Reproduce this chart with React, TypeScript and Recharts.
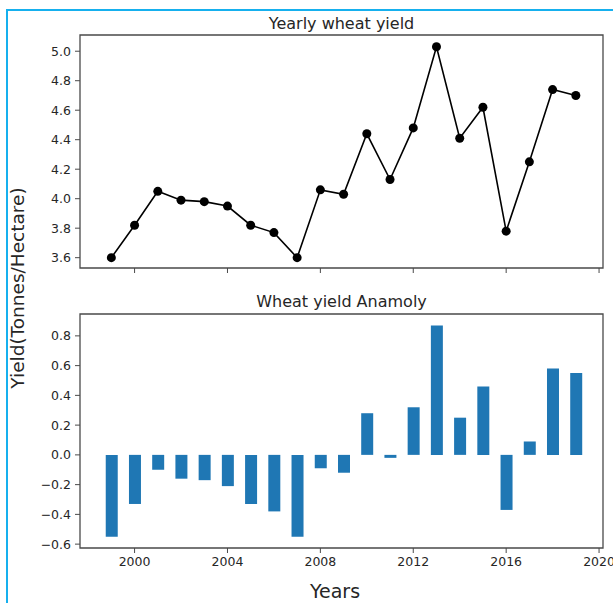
import React from 'react';
import { ComposedChart, Line, Bar, XAxis, YAxis, ReferenceArea } from 'recharts';

const years = [
  1999, 2000, 2001, 2002, 2003, 2004, 2005, 2006, 2007, 2008, 2009,
  2010, 2011, 2012, 2013, 2014, 2015, 2016, 2017, 2018, 2019,
];
const yieldValues = [
  3.6, 3.82, 4.05, 3.99, 3.98, 3.95, 3.82, 3.77, 3.6, 4.06, 4.03,
  4.44, 4.13, 4.48, 5.03, 4.41, 4.62, 3.78, 4.25, 4.74, 4.7,
];
const anomalyValues = [
  -0.55, -0.33, -0.1, -0.16, -0.17, -0.21, -0.33, -0.38, -0.55, -0.09, -0.12,
  0.28, -0.02, 0.32, 0.87, 0.25, 0.46, -0.37, 0.09, 0.58, 0.55,
];
const yearTicks = [2000, 2004, 2008, 2012, 2016, 2020];
const yieldTicks = [3.6, 3.8, 4.0, 4.2, 4.4, 4.6, 4.8, 5.0];
const anomalyTicks = [-0.6, -0.4, -0.2, 0.0, 0.2, 0.4, 0.6, 0.8];

const X_DOMAIN: [number, number] = [1997.65, 2020.17];
const YIELD_DOMAIN: [number, number] = [3.53, 5.11];
const ANOMALY_DOMAIN: [number, number] = [-0.626, 0.947];

const FONT = '"DejaVu Sans", sans-serif';
const TEXT = '#262626';
const SPINE = '#4a4a4a';
const tickStyle = { fontSize: 12.5, fill: TEXT, fontFamily: FONT };

const yieldData = years.map((year, i) => ({ year, value: yieldValues[i] }));
const anomalyData = years.map((year, i) => ({ year, value: anomalyValues[i] }));

// matplotlib style minus sign
const fmt = (v: number) => {
  const s = Math.abs(v) < 1e-9 ? '0.0' : v.toFixed(1);
  return s.replace('-', '\u2212');
};

export default function App() {
  return (
    <div
      style={{
        position: 'absolute',
        left: 0,
        top: 0,
        width: 613,
        height: 603,
        background: '#fff',
        fontFamily: FONT,
        overflow: 'hidden',
      }}
    >
      {/* light blue frame from the screenshot */}
      <div
        style={{
          position: 'absolute',
          left: 6,
          top: 9,
          width: 620,
          height: 620,
          borderTop: '2px solid #16b0ee',
          borderLeft: '2px solid #16b0ee',
        }}
      />

      <div style={{ position: 'absolute', left: 0, top: 0 }}>
        <ComposedChart
          width={613}
          height={290}
          data={yieldData}
          margin={{ top: 35, right: 10, bottom: 2, left: 30 }}
        >
          <XAxis
            dataKey="year"
            type="number"
            domain={X_DOMAIN}
            allowDataOverflow
            ticks={yearTicks}
            tickFormatter={() => ''}
            axisLine={false}
            tickSize={5}
            tickLine={{ stroke: SPINE }}
            height={20}
          />
          <YAxis
            type="number"
            domain={YIELD_DOMAIN}
            allowDataOverflow
            ticks={yieldTicks}
            tickFormatter={fmt}
            axisLine={false}
            tickSize={5}
            tickMargin={4}
            tickLine={{ stroke: SPINE }}
            tick={tickStyle}
            width={50}
          />
          <ReferenceArea
            x1={X_DOMAIN[0]}
            x2={X_DOMAIN[1]}
            y1={YIELD_DOMAIN[0]}
            y2={YIELD_DOMAIN[1]}
            fill="none"
            fillOpacity={0}
            stroke={SPINE}
            strokeWidth={1.3}
          />
          <Line
            dataKey="value"
            type="linear"
            stroke="#000"
            strokeWidth={1.6}
            dot={{ r: 4.5, fill: '#000', stroke: '#000', strokeWidth: 0 }}
            activeDot={false}
            isAnimationActive={false}
          />
        </ComposedChart>
      </div>

      <div style={{ position: 'absolute', left: 0, top: 290 }}>
        <ComposedChart
          width={613}
          height={313}
          data={anomalyData}
          margin={{ top: 24, right: 10, bottom: 25, left: 30 }}
        >
          <XAxis
            dataKey="year"
            type="number"
            domain={X_DOMAIN}
            allowDataOverflow
            ticks={yearTicks}
            axisLine={false}
            tickSize={5}
            tickMargin={4}
            tickLine={{ stroke: SPINE }}
            tick={tickStyle}
            height={30}
          />
          <YAxis
            type="number"
            domain={ANOMALY_DOMAIN}
            allowDataOverflow
            ticks={anomalyTicks}
            tickFormatter={fmt}
            axisLine={false}
            tickSize={5}
            tickMargin={4}
            tickLine={{ stroke: SPINE }}
            tick={tickStyle}
            width={50}
          />
          <Bar dataKey="value" fill="#1f77b4" barSize={12} isAnimationActive={false} />
          <ReferenceArea
            x1={X_DOMAIN[0]}
            x2={X_DOMAIN[1]}
            y1={ANOMALY_DOMAIN[0]}
            y2={ANOMALY_DOMAIN[1]}
            fill="none"
            fillOpacity={0}
            stroke={SPINE}
            strokeWidth={1.3}
          />
        </ComposedChart>
      </div>

      {/* titles and axis labels */}
      <svg
        width={613}
        height={603}
        style={{ position: 'absolute', left: 0, top: 0, pointerEvents: 'none' }}
      >
        <text x={341.5} y={29} textAnchor="middle" fontSize={16} fill={TEXT} fontFamily={FONT}>
          Yearly wheat yield
        </text>
        <text x={341.5} y={307} textAnchor="middle" fontSize={16} fill={TEXT} fontFamily={FONT}>
          Wheat yield Anamoly
        </text>
        <text x={335} y={598} textAnchor="middle" fontSize={19} fill={TEXT} fontFamily={FONT}>
          Years
        </text>
        <text
          x={0}
          y={0}
          textAnchor="middle"
          fontSize={18.5}
          fill={TEXT}
          fontFamily={FONT}
          transform="translate(24 288) rotate(-90)"
        >
          Yield(Tonnes/Hectare)
        </text>
      </svg>
    </div>
  );
}
